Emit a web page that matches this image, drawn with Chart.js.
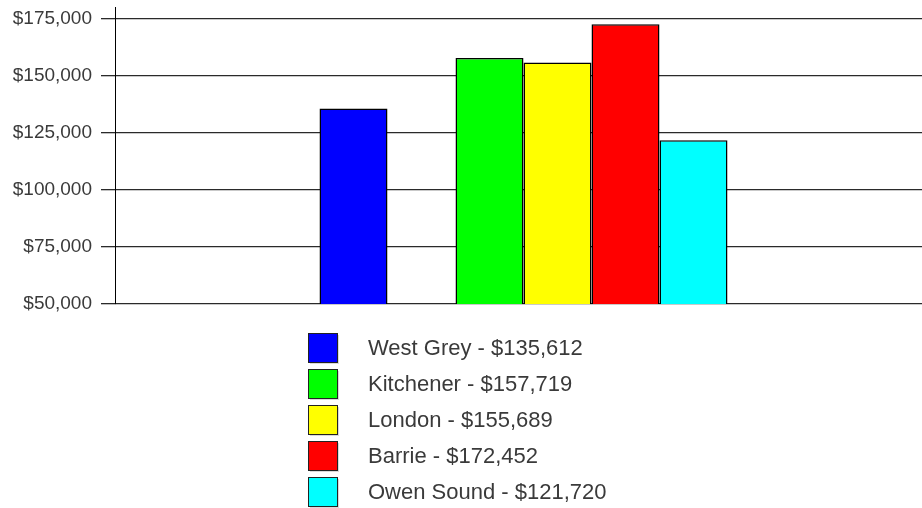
<!DOCTYPE html>
<html>
<head>
<meta charset="utf-8">
<script src="https://cdn.jsdelivr.net/npm/chart.js@4/dist/chart.umd.min.js"></script>
<style>
  html, body { margin: 0; padding: 0; background: #fff; }
  #wrap { width: 922px; height: 508px; overflow: hidden; position: relative; }
  #box { width: 932px; height: 508px; }
</style>
</head>
<body>
<div id="wrap"><div id="box"><canvas id="myChart"></canvas></div></div>
<script>
// chart data
var cities = ['West Grey', 'Kitchener', 'London', 'Barrie', 'Owen Sound'];
var prices = [135612, 157719, 155689, 172452, 121720];
var colors = ['#0000ff', '#00ff00', '#ffff00', '#ff0000', '#00ffff'];
var yTicks = [50000, 75000, 100000, 125000, 150000, 175000];

// the original leaves an empty slot after the first bar
var slots = [0, null, 1, 2, 3, 4];

var datasets = slots.map(function (i) {
    if (i === null) {
        return { label: '', data: [null], backgroundColor: 'transparent', borderWidth: 0, spacer: true };
    }
    return {
        label: cities[i] + ' - $' + prices[i].toLocaleString('en-US'),
        data: [prices[i]],
        backgroundColor: colors[i],
        borderColor: '#000',
        borderWidth: 1.5,
        borderSkipped: false
    };
});

// legend drawn as a column under the plot
var columnLegend = {
    id: 'columnLegend',
    afterDraw: function (chart) {
        var ctx = chart.ctx;
        var items = chart.data.datasets.filter(function (d) { return !d.spacer; });
        ctx.save();
        ctx.font = '22px "Liberation Sans", Arial, sans-serif';
        ctx.textBaseline = 'middle';
        items.forEach(function (d, k) {
            var top = 333 + k * 36;
            ctx.fillStyle = 'rgba(0,0,0,0.15)';
            ctx.fillRect(310, top + 2, 29, 29);
            ctx.fillStyle = d.backgroundColor;
            ctx.fillRect(308.5, top + 0.5, 29, 29);
            ctx.strokeStyle = '#222';
            ctx.lineWidth = 1;
            ctx.strokeRect(308.5, top + 0.5, 29, 29);
            ctx.fillStyle = '#3a3a3a';
            ctx.fillText(d.label, 368, top + 16);
        });
        ctx.restore();
    }
};

var ctx = document.getElementById('myChart').getContext('2d');
var myChart = new Chart(ctx, {
    type: 'bar',
    data: {
        labels: [''],
        datasets: datasets
    },
    options: {
        responsive: true,
        maintainAspectRatio: false,
        animation: false,
        layout: { padding: { top: 7, bottom: 204, left: 0, right: 0 } },
        categoryPercentage: 408 / 817,
        barPercentage: 1,
        plugins: {
            legend: { display: false },
            tooltip: { enabled: false }
        },
        scales: {
            x: { display: false },
            y: {
                min: 50000,
                max: 180000,
                afterBuildTicks: function (scale) {
                    scale.ticks = yTicks.map(function (v) { return { value: v }; });
                },
                afterFit: function (scale) {
                    scale.width = 115;
                    scale.paddingTop = 0;
                    scale.paddingBottom = 0;
                },
                border: { display: true, color: '#000', width: 1 },
                grid: { color: '#2a2a2a', lineWidth: 1.3, tickLength: 14, drawTicks: true },
                ticks: {
                    padding: 9,
                    color: '#3a3a3a',
                    font: { family: '"Liberation Sans", Arial, sans-serif', size: 19 },
                    callback: function (v) { return '$' + v.toLocaleString('en-US'); }
                }
            }
        }
    },
    plugins: [columnLegend]
});
</script>
</body>
</html>
